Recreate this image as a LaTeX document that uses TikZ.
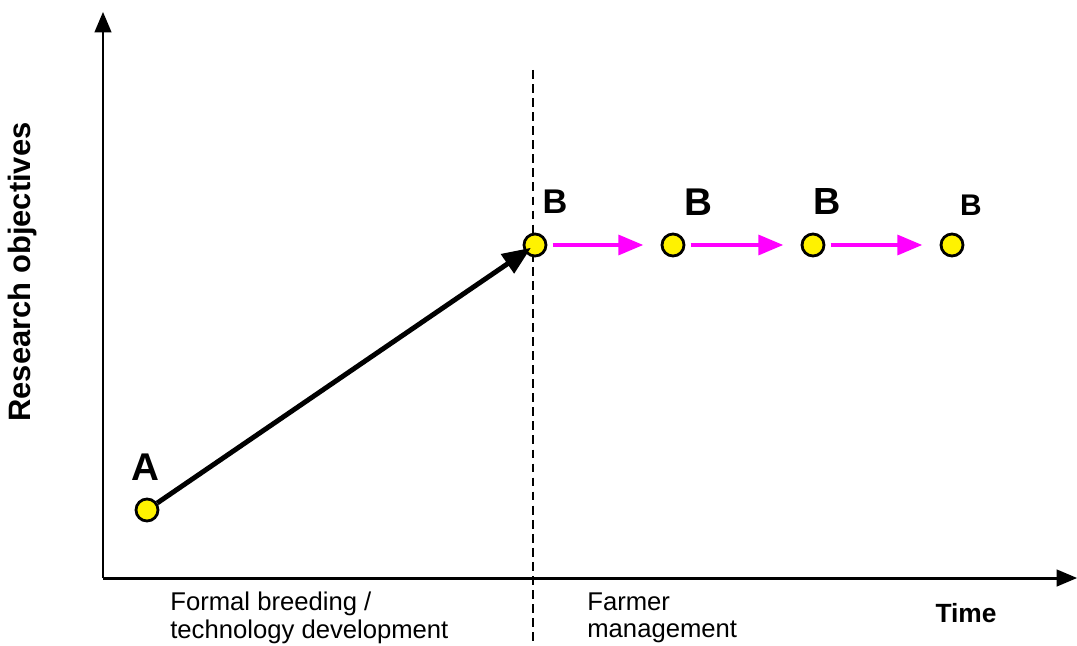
\documentclass[tikz,border=0pt]{standalone}
\usepackage{fontspec}
\setmainfont{Liberation Sans}
\usetikzlibrary{arrows}
\definecolor{pinkline}{RGB}{255,0,255}

\begin{document}
\begin{tikzpicture}[x=0.02cm,y=-0.02cm,>=triangle 45,
  point/.style={circle,fill=yellow,draw,line width=1.6pt,inner sep=0pt,minimum size=0.44cm},
  tag/.style={font=\bfseries\fontsize{20}{24}\selectfont,inner sep=0pt},
  phase/.style={anchor=north west,align=left,inner sep=0pt,font=\fontsize{14.6}{15.5}\selectfont}]

  \useasboundingbox (0,0) rectangle (1077,645);

  % axes
  \coordinate (o) at (103,578);
  \coordinate (ytop) at (103,12);
  \coordinate (xend) at (1077,578);
  \draw[->,line width=1.7pt] (o) -- (ytop);
  \draw[->,line width=1.7pt] (o) -- (xend);

  % split between the two phases
  \coordinate (dtop) at (533,70);
  \coordinate (dbot) at (533,645);
  \draw[dashed,line width=1.1pt,dash pattern=on 5pt off 3pt] (dtop) -- (dbot);

  \node[point] (a) at (147,510) {};
  \node[point] (b1) at (535,245) {};
  \node[point] (b2) at (673,245) {};
  \node[point] (b3) at (813,245) {};
  \node[point] (b4) at (952,245) {};

  \node[tag,font=\bfseries\fontsize{22}{26}\selectfont] (la) at (145,467) {A};
  \node[tag,font=\bfseries\fontsize{19.5}{23}\selectfont] (lb1) at (555,202) {B};
  \node[tag,font=\bfseries\fontsize{22}{26}\selectfont] (lb2) at (698,202) {B};
  \node[tag,font=\bfseries\fontsize{21.5}{25}\selectfont] (lb3) at (827,202) {B};
  \node[tag,font=\bfseries\fontsize{17}{20}\selectfont] (lb4) at (971,205) {B};

  \node[rotate=90,font=\bfseries\fontsize{17.6}{20}\selectfont] (ylab) at (23,272) {Research objectives};
  \node[font=\bfseries\fontsize{15}{18}\selectfont] (xlab) at (966,613) {Time};
  \node[phase] (formal) at (170,592) {Formal breeding /\\technology development};
  \node[phase] (farmer) at (587,592) {Farmer\\management};

  \draw[->,line width=2.8pt,shorten >=3pt] (a) -- (b1.center);
  \path[->,pinkline,line width=2.3pt,shorten <=3pt,shorten >=10pt]
    (b1) edge (b2)
    (b2) edge (b3)
    (b3) edge (b4);
\end{tikzpicture}
\end{document}
